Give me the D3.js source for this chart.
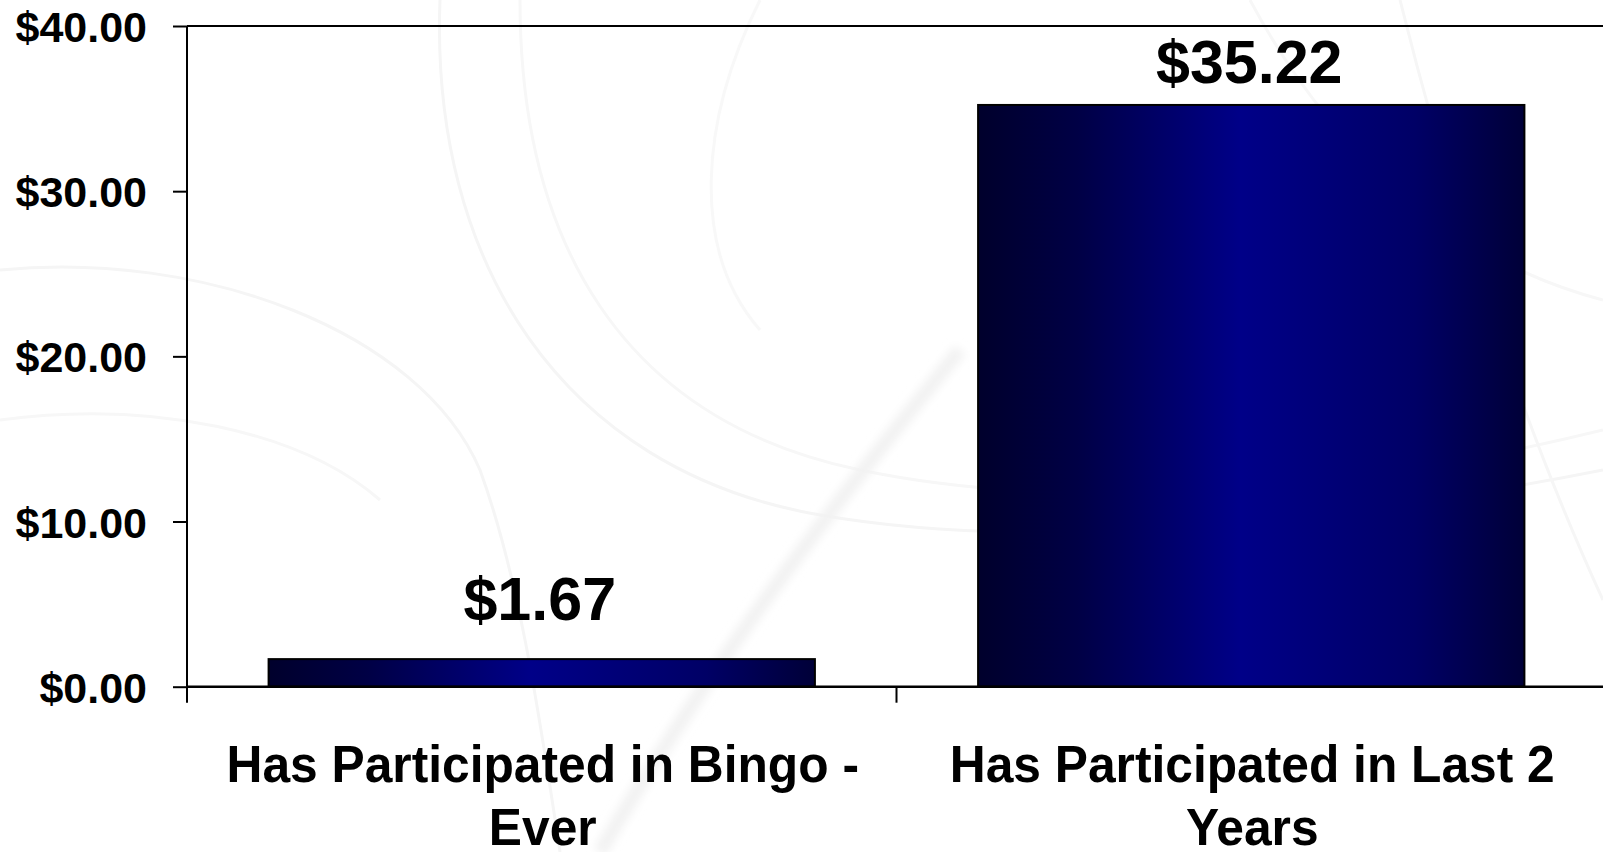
<!DOCTYPE html>
<html>
<head>
<meta charset="utf-8">
<script src="https://cdn.jsdelivr.net/npm/d3@7"></script>
<style>
  html, body { margin: 0; padding: 0; background: #ffffff; overflow: hidden; }
  svg { display: block; }
  text { font-family: "Liberation Sans", Arial, sans-serif; font-weight: bold; fill: #000; }
</style>
</head>
<body>
<script>
// ---- data ----
const categories = [
  ["Has Participated in Bingo -", "Ever"],
  ["Has Participated in Last 2", "Years"]
];
const values = [1.67, 35.22];
const yTicks = [0, 10, 20, 30, 40];

(function () {
// ---- layout ----
const W = 1603, H = 852;
const plotLeft = 187, plotRight = 1606, plotTop = 26, plotBottom = 686.7;

const svg = d3.select("body").append("svg").attr("width", W).attr("height", H);

// faint decorative background swirls
const defs = svg.append("defs");
defs.append("filter").attr("id", "soft").append("feGaussianBlur").attr("stdDeviation", 4);
const deco = svg.append("g").attr("fill", "none").attr("stroke", "#f5f5f5").attr("stroke-width", 3);
deco.append("path").attr("d", "M440,0 C430,260 560,470 820,515 C1050,555 1350,520 1603,470");
deco.append("path").attr("d", "M520,0 C520,240 620,420 860,470 C1100,520 1400,480 1603,430").attr("stroke", "#f7f7f7");
deco.append("path").attr("d", "M0,270 C200,250 420,330 480,470 C520,580 540,720 560,852").attr("stroke", "#f5f5f5");
deco.append("path").attr("d", "M0,420 C150,400 300,430 380,500").attr("stroke", "#f7f7f7");
deco.append("path").attr("d", "M960,350 C820,520 700,680 600,852").attr("stroke", "#f2f2f2").attr("stroke-width", 14).attr("filter", "url(#soft)");
deco.append("path").attr("d", "M1400,0 C1450,200 1520,420 1603,600").attr("stroke", "#f6f6f6");
deco.append("path").attr("d", "M1250,0 C1330,150 1450,260 1603,300").attr("stroke", "#f7f7f7");
deco.append("path").attr("d", "M760,0 C700,120 690,250 760,330").attr("stroke", "#f8f8f8");

// gradient for bars
const grad = defs.append("linearGradient").attr("id", "barGrad")
  .attr("x1", "0%").attr("x2", "100%").attr("y1", "0%").attr("y2", "0%");
grad.append("stop").attr("offset", "0%").attr("stop-color", "#00002c");
grad.append("stop").attr("offset", "18%").attr("stop-color", "#000045");
grad.append("stop").attr("offset", "48%").attr("stop-color", "#000088");
grad.append("stop").attr("offset", "80%").attr("stop-color", "#000066");
grad.append("stop").attr("offset", "100%").attr("stop-color", "#000038");

const x = d3.scaleBand()
  .domain(d3.range(categories.length))
  .range([plotLeft, plotRight])
  .paddingInner(0.23)
  .paddingOuter(0.115);

const y = d3.scaleLinear().domain([0, 40]).range([plotBottom, plotTop]);

// top border
svg.append("line")
  .attr("x1", plotLeft).attr("x2", W).attr("y1", y(40)).attr("y2", y(40))
  .attr("stroke", "#000").attr("stroke-width", 2);

// y axis
const yAxis = d3.axisLeft(y)
  .tickValues(yTicks)
  .tickSize(14)
  .tickPadding(26)
  .tickFormat(d => "$" + d.toFixed(2));
const gy = svg.append("g").attr("transform", `translate(${plotLeft},0)`).call(yAxis);
gy.select(".domain").remove();
gy.selectAll(".tick line").attr("stroke", "#000").attr("stroke-width", 2);
gy.selectAll(".tick text")
  .attr("font-size", 43)
  .attr("font-family", "'Liberation Sans', Arial, sans-serif")
  .attr("font-weight", "bold")
  .attr("fill", "#000")
  .attr("dy", "0.36em");
svg.append("line")
  .attr("x1", plotLeft).attr("x2", plotLeft).attr("y1", y(40)).attr("y2", y(0))
  .attr("stroke", "#000").attr("stroke-width", 2);

// bars
svg.append("g").selectAll("rect")
  .data(values)
  .join("rect")
  .attr("x", (d, i) => x(i))
  .attr("width", x.bandwidth())
  .attr("y", d => y(d))
  .attr("height", d => y(0) - y(d))
  .attr("fill", "url(#barGrad)")
  .attr("stroke", "#000")
  .attr("stroke-width", 2);

// x baseline and category separator ticks
svg.append("line")
  .attr("x1", plotLeft).attr("x2", W).attr("y1", y(0)).attr("y2", y(0))
  .attr("stroke", "#000").attr("stroke-width", 2.5);
const sepPos = d3.range(categories.length + 1).map(i => plotLeft + i * x.step());
svg.append("g").selectAll("line")
  .data(sepPos)
  .join("line")
  .attr("x1", d => d).attr("x2", d => d)
  .attr("y1", y(0)).attr("y2", y(0) + 16)
  .attr("stroke", "#000").attr("stroke-width", 2);

// value labels
svg.append("g").selectAll("text")
  .data(values)
  .join("text")
  .attr("x", (d, i) => x(i) + x.bandwidth() / 2 - 2)
  .attr("y", d => Math.max(y(d) - 39, y(40) + 57))
  .attr("text-anchor", "middle")
  .attr("font-size", 61)
  .text(d => "$" + d.toFixed(2));

// category labels (slightly condensed like the original)
const cl = svg.append("g").selectAll("text")
  .data(categories)
  .join("text")
  .attr("transform", (d, i) => `translate(${x(i) + x.bandwidth() / 2 + 1},782.3) scale(0.956,1)`)
  .attr("text-anchor", "middle")
  .attr("font-size", 52);
cl.selectAll("tspan")
  .data(d => d)
  .join("tspan")
  .attr("x", 0)
  .attr("dy", (d, j) => j === 0 ? 0 : "1.2em")
  .text(d => d);
})();
</script>
</body>
</html>
